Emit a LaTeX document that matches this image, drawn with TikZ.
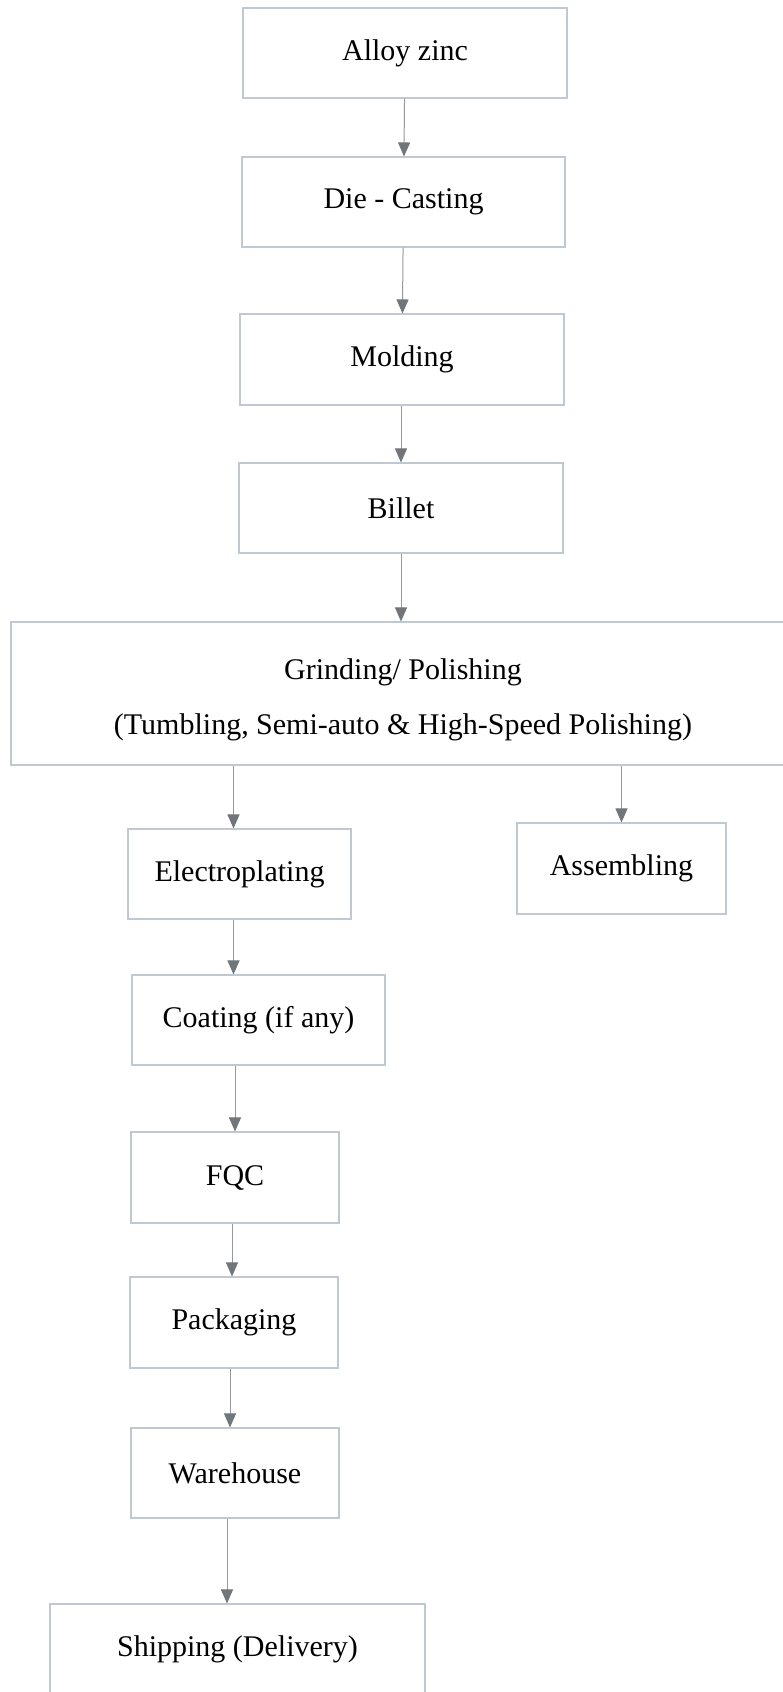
\documentclass[tikz,border=0pt]{standalone}
\usepackage{fontspec}
\setmainfont{Liberation Serif}
\usetikzlibrary{arrows.meta}
\definecolor{boxline}{RGB}{192,201,210}
\definecolor{arrowline}{RGB}{150,152,155}
\definecolor{arrowhead}{RGB}{112,118,122}
\begin{document}
\begin{tikzpicture}[x=1pt, y=-1pt,
    box/.style={draw=boxline, line width=1.1pt, minimum height=90pt,
      inner sep=0pt, font=\fontsize{30}{36}\selectfont},
    flow/.style={draw=arrowline, line width=1pt,
      -{Triangle[width=12pt,length=14pt,color=arrowhead]}}]
      \useasboundingbox (0,0) rectangle (783,1692);
      \clip (0,0) rectangle (783,1692);
      \draw
        (405,53) node[box, minimum width=324pt] (alloy){Alloy zinc}
        (403.5,202) node[box, minimum width=323pt] (die){Die - Casting}
        (402,359.5) node[box, minimum width=324pt, minimum height=91pt] (molding){Molding}
        (401,508) node[box, minimum width=324pt] (billet){Billet}
        (403,693.5) node[box, minimum width=784pt, minimum height=143pt, align=center,
          font=\fontsize{30}{55}\selectfont] (grinding){\rule{0pt}{33pt}Grinding/ Polishing\\(Tumbling, Semi-auto \& High-Speed Polishing)}
        (239.5,874) node[box, minimum width=223pt] (electro){Electroplating}
        (621.5,868.5) node[box, minimum width=209pt, minimum height=91pt] (assembling){Assembling}
        (258.5,1020) node[box, minimum width=253pt] (coating){Coating (if any)}
        (235,1177.5) node[box, minimum width=208pt, minimum height=91pt] (fqc){FQC}
        (234,1322.5) node[box, minimum width=208pt, minimum height=91pt] (packaging){Packaging}
        (235,1473) node[box, minimum width=208pt] (warehouse){Warehouse}
        (237.5,1649) node[box, minimum width=375pt] (shipping){Shipping (Delivery)};
      \begin{scope}[flow]
        \draw (alloy) to (die);
        \draw (die) to (molding);
        \draw (molding.south -| billet.north) to (billet.north);
        \draw (billet.south) to (billet.south |- grinding.north);
        \draw ([xshift=-6pt]electro.north |- grinding.south) to ([xshift=-6pt]electro.north);
        \draw (assembling.north |- grinding.south) to (assembling.north);
        \draw ([xshift=-6pt]electro.south) to ([xshift=-6pt]electro.south |- coating.north);
        \draw (fqc.north |- coating.south) to (fqc.north);
        \draw ([xshift=-2pt]packaging.north |- fqc.south) to ([xshift=-2pt]packaging.north);
        \draw ([xshift=-4pt]packaging.south) to ([xshift=-4pt]packaging.south |- warehouse.north);
        \draw ([xshift=-8pt]warehouse.south) to ([xshift=-8pt]warehouse.south |- shipping.north);
      \end{scope}
    \end{tikzpicture}
\end{document}
